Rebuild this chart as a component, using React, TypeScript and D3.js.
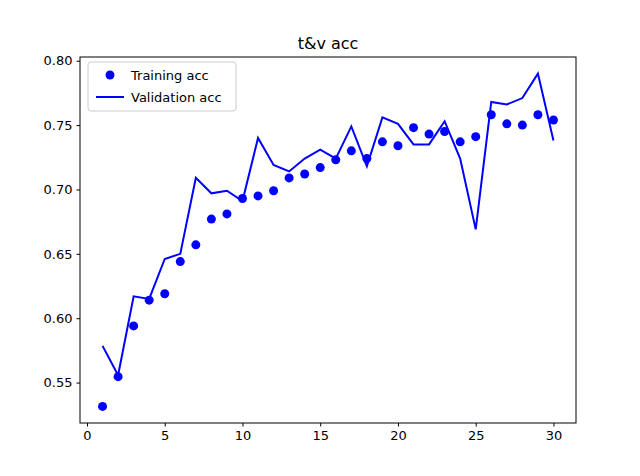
import { useEffect, useRef } from "react";
import * as d3 from "d3";

const EPOCHS = d3.range(1, 31);
const TRAIN_ACC = [0.5315, 0.5546, 0.594, 0.614, 0.619, 0.644, 0.657, 0.677, 0.681, 0.693, 0.695, 0.699, 0.709, 0.712, 0.717, 0.723, 0.73, 0.724, 0.737, 0.734, 0.748, 0.743, 0.745, 0.737, 0.741, 0.758, 0.751, 0.75, 0.758, 0.754];
const VAL_ACC = [0.5785, 0.5557, 0.617, 0.615, 0.646, 0.65, 0.709, 0.697, 0.699, 0.691, 0.74, 0.719, 0.714, 0.724, 0.731, 0.724, 0.749, 0.718, 0.756, 0.751, 0.735, 0.735, 0.753, 0.724, 0.669, 0.768, 0.766, 0.771, 0.79, 0.738];
const X_TICKS = [0, 5, 10, 15, 20, 25, 30];
const Y_TICKS = [0.55, 0.6, 0.65, 0.7, 0.75, 0.8];

export default function App() {
  const ref = useRef<SVGSVGElement | null>(null);

  useEffect(() => {
    if (!ref.current) return;
    const svg = d3.select(ref.current);
    svg.selectAll("*").remove();
    const width = 640, height = 476;
    const m = { top: 57, right: 64, bottom: 53, left: 80 };
    const font = "DejaVu Sans, sans-serif";

    const x = d3.scaleLinear().domain([-0.45, 31.45]).range([m.left, width - m.right]);
    const y = d3.scaleLinear().domain([0.5186, 0.8029]).range([height - m.bottom, m.top]);

    svg.append("rect").attr("width", width).attr("height", height).attr("fill", "#fff");

    const xa = svg.append("g").attr("transform", `translate(0,${height - m.bottom})`)
      .call(d3.axisBottom(x).tickValues(X_TICKS).tickSize(3.5).tickPadding(4).tickFormat(d3.format("d")));
    const ya = svg.append("g").attr("transform", `translate(${m.left},0)`)
      .call(d3.axisLeft(y).tickValues(Y_TICKS).tickSize(3.5).tickPadding(4).tickFormat(d3.format(".2f")));
    [xa, ya].forEach((g) => {
      g.select(".domain").remove();
      g.selectAll("text").attr("font-family", font).attr("font-size", 13).attr("fill", "#000");
      g.selectAll("line").attr("stroke", "#000");
    });

    svg.append("path")
      .datum(VAL_ACC)
      .attr("fill", "none").attr("stroke", "#0000ff").attr("stroke-width", 2)
      .attr("d", d3.line<number>().x((_, i) => x(EPOCHS[i])).y((d) => y(d)));

    svg.append("g").selectAll("circle").data(TRAIN_ACC).enter().append("circle")
      .attr("cx", (_, i) => x(EPOCHS[i])).attr("cy", (d) => y(d)).attr("r", 4.5).attr("fill", "#0000ff");

    svg.append("rect").attr("x", m.left).attr("y", m.top)
      .attr("width", width - m.left - m.right).attr("height", height - m.top - m.bottom)
      .attr("fill", "none").attr("stroke", "#000").attr("stroke-width", 1);

    svg.append("text").attr("x", (m.left + width - m.right) / 2).attr("y", 49)
      .attr("text-anchor", "middle").attr("font-family", font).attr("font-size", 16).text("t&v acc");

    const lg = svg.append("g");
    lg.append("rect").attr("x", 88).attr("y", 62).attr("width", 148).attr("height", 49).attr("rx", 3)
      .attr("fill", "#fff").attr("fill-opacity", 0.8).attr("stroke", "#ccc");
    lg.append("circle").attr("cx", 110).attr("cy", 75).attr("r", 4.5).attr("fill", "#0000ff");
    lg.append("line").attr("x1", 96).attr("x2", 124).attr("y1", 97).attr("y2", 97).attr("stroke", "#0000ff").attr("stroke-width", 2);
    lg.append("text").attr("x", 131).attr("y", 80).attr("font-family", font).attr("font-size", 13).text("Training acc");
    lg.append("text").attr("x", 131).attr("y", 102).attr("font-family", font).attr("font-size", 13).text("Validation acc");
  }, []);

  return <svg ref={ref} width={640} height={476} style={{ position: "absolute", left: 0, top: 0, display: "block" }} />;
}
